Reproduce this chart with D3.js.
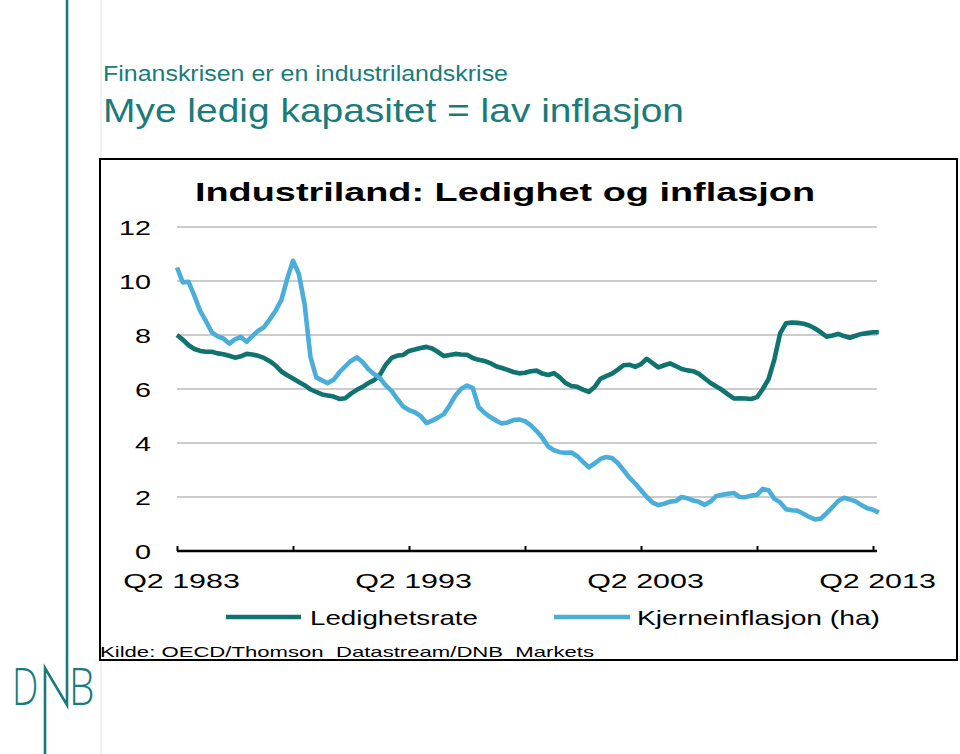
<!DOCTYPE html>
<html>
<head>
<meta charset="utf-8">
<script src="https://cdn.jsdelivr.net/npm/d3@7"></script>
<style>
  html, body { margin: 0; padding: 0; background: #ffffff; }
  svg { display: block; font-family: "Liberation Sans", Arial, sans-serif; }
</style>
</head>
<body>
<svg id="chart" width="960" height="754"></svg>
<script>
// ---------------- DATA ----------------
const startYear = 1983;
const startQuarter = 2;
// Ledighetsrate (%), quarterly from Q2 1983
const unemployment = [
  8.00, 7.83, 7.62, 7.48, 7.41, 7.38, 7.38, 7.32, 7.29, 7.23,
  7.16, 7.21, 7.30, 7.28, 7.23, 7.15, 7.03, 6.87, 6.65, 6.51,
  6.39, 6.26, 6.14, 5.99, 5.89, 5.80, 5.76, 5.72, 5.63, 5.66,
  5.83, 5.97, 6.08, 6.22, 6.33, 6.53, 6.90, 7.15, 7.24, 7.26,
  7.41, 7.46, 7.52, 7.56, 7.50, 7.37, 7.22, 7.26, 7.30, 7.28,
  7.27, 7.15, 7.08, 7.04, 6.96, 6.84, 6.78, 6.71, 6.63, 6.58,
  6.60, 6.66, 6.68, 6.57, 6.52, 6.59, 6.43, 6.22, 6.11, 6.08,
  5.98, 5.89, 6.07, 6.38, 6.48, 6.57, 6.72, 6.88, 6.90, 6.82,
  6.92, 7.12, 6.96, 6.80, 6.88, 6.95, 6.85, 6.74, 6.69, 6.66,
  6.56, 6.39, 6.22, 6.09, 5.96, 5.80, 5.65, 5.66, 5.65, 5.63,
  5.70, 6.00, 6.37, 7.10, 8.07, 8.43, 8.46, 8.45, 8.42, 8.35,
  8.24, 8.10, 7.94, 7.98, 8.04, 7.96, 7.90, 7.97, 8.04, 8.07,
  8.10, 8.10
];
// Kjerneinflasjon (%), quarterly from Q2 1983
const coreInflation = [
  10.50, 9.95, 9.97, 9.45, 8.89, 8.51, 8.10, 7.95, 7.87, 7.68,
  7.84, 7.93, 7.75, 7.96, 8.16, 8.29, 8.58, 8.90, 9.30, 10.08,
  10.75, 10.27, 9.14, 7.20, 6.43, 6.32, 6.22, 6.34, 6.62, 6.84,
  7.04, 7.17, 7.00, 6.73, 6.55, 6.40, 6.13, 5.93, 5.63, 5.35,
  5.22, 5.14, 5.00, 4.74, 4.83, 4.94, 5.07, 5.39, 5.76, 6.01,
  6.13, 6.03, 5.33, 5.12, 4.96, 4.83, 4.72, 4.76, 4.85, 4.87,
  4.81, 4.65, 4.44, 4.19, 3.87, 3.73, 3.66, 3.64, 3.65, 3.51,
  3.30, 3.10, 3.24, 3.41, 3.48, 3.44, 3.26, 2.99, 2.72, 2.50,
  2.25, 2.00, 1.79, 1.70, 1.75, 1.83, 1.85, 2.00, 1.95, 1.87,
  1.82, 1.71, 1.83, 2.04, 2.08, 2.12, 2.15, 2.00, 1.99, 2.05,
  2.08, 2.30, 2.25, 1.93, 1.80, 1.55, 1.51, 1.49, 1.38, 1.26,
  1.17, 1.20, 1.40, 1.62, 1.85, 1.97, 1.91, 1.84, 1.70, 1.58,
  1.53, 1.42
];
const quarters = unemployment.map((_, i) => {
  const q = (startQuarter - 1 + i);
  return "Q" + (q % 4 + 1) + " " + (startYear + Math.floor(q / 4));
});
const xTickIndex = [0, 20, 40, 60, 80, 100, 120];
const xTickLabels = ["Q2 1983", "", "Q2 1993", "", "Q2 2003", "", "Q2 2013"];
const yTicks = [0, 2, 4, 6, 8, 10, 12];
const seriesNames = ["Ledighetsrate", "Kjerneinflasjon (ha)"];

// ---------------- STYLE ----------------
const TEAL = "#117370";
const LIGHT = "#4aaed9";
const BRAND = "#1a7b7b";

const svg = d3.select("#chart");

// --- left sidebar & logo ---
svg.append("line").attr("x1", 101).attr("x2", 101).attr("y1", 0).attr("y2", 754)
  .attr("stroke", "#e2e2e2").attr("stroke-width", 1);
svg.append("path")
  .attr("d", "M67,0 L67,705 L45,668 L45,754")
  .attr("fill", "none").attr("stroke", BRAND).attr("stroke-width", 2.6)
  .attr("stroke-linejoin", "miter");
svg.append("text").text("D")
  .attr("transform", "translate(12,705) scale(0.72,1)")
  .attr("font-family", "'Open Sans', sans-serif").attr("font-weight", 300)
  .attr("font-size", 52).attr("fill", BRAND);
svg.append("text").text("B")
  .attr("transform", "translate(69,705) scale(0.78,1)")
  .attr("font-family", "'Open Sans', sans-serif").attr("font-weight", 300)
  .attr("font-size", 52).attr("fill", BRAND);

// --- slide titles ---
svg.append("text").text("Finanskrisen er en industrilandskrise")
  .attr("x", 103).attr("y", 81).attr("font-size", 22).attr("fill", BRAND)
  .attr("textLength", 405).attr("lengthAdjust", "spacingAndGlyphs");
svg.append("text").text("Mye ledig kapasitet = lav inflasjon")
  .attr("x", 103).attr("y", 122).attr("font-size", 33).attr("fill", BRAND)
  .attr("textLength", 581).attr("lengthAdjust", "spacingAndGlyphs");

// --- chart box ---
svg.append("rect").attr("x", 100).attr("y", 159).attr("width", 857).attr("height", 501)
  .attr("fill", "#fff").attr("stroke", "#000").attr("stroke-width", 2);

svg.append("text").text("Industriland: Ledighet og inflasjon")
  .attr("x", 195).attr("y", 201).attr("font-size", 26).attr("font-weight", "bold")
  .attr("textLength", 620).attr("lengthAdjust", "spacingAndGlyphs").attr("fill", "#000");

// --- scales ---
const x = d3.scaleLinear().domain([0, 120]).range([177, 873]);
const y = d3.scaleLinear().domain([0, 12]).range([551, 227]);

// gridlines
svg.append("g").selectAll("line").data(yTicks.filter(d => d > 0)).join("line")
  .attr("x1", 177).attr("x2", 877)
  .attr("y1", d => y(d)).attr("y2", d => y(d))
  .attr("stroke", "#cccccc").attr("stroke-width", 2);

// y labels
const yAxis = svg.append("g").attr("transform", "translate(177,0)")
  .call(d3.axisLeft(y).tickValues(yTicks).tickSize(0).tickPadding(26).tickFormat(d3.format("d")));
yAxis.select(".domain").remove();
yAxis.selectAll("text")
  .attr("font-family", "'Liberation Sans', Arial, sans-serif")
  .attr("font-size", 20).attr("fill", "#000")
  .attr("dy", null).attr("dominant-baseline", null)
  .each(function () {
    const t = d3.select(this);
    const xx = +t.attr("x");
    t.attr("x", null).attr("transform", `translate(${xx},7) scale(1.44,1)`);
  });

// x axis
const xAxis = svg.append("g").attr("transform", "translate(0,551)")
  .call(d3.axisBottom(x).tickValues(xTickIndex).tickSize(-5).tickPadding(0)
    .tickFormat((d, i) => xTickLabels[i]));
xAxis.select(".domain")
  .attr("d", `M177,0H877`).attr("stroke", "#000").attr("stroke-width", 2.4);
xAxis.selectAll(".tick line").attr("stroke", "#000").attr("stroke-width", 2);
xAxis.selectAll(".tick text")
  .attr("font-family", "'Liberation Sans', Arial, sans-serif")
  .attr("font-size", 21).attr("fill", "#000")
  .attr("y", null).attr("dy", null)
  .attr("transform", "translate(4,37) scale(1.45,1)");

// lines
const line = d3.line().x((d, i) => x(i)).y(d => y(d));
svg.append("path").datum(unemployment).attr("d", line)
  .attr("fill", "none").attr("stroke", TEAL).attr("stroke-width", 4.6)
  .attr("stroke-linejoin", "round");
svg.append("path").datum(coreInflation).attr("d", line)
  .attr("fill", "none").attr("stroke", LIGHT).attr("stroke-width", 4.6)
  .attr("stroke-linejoin", "round");

// legend
const legendItems = [
  { name: seriesNames[0], color: TEAL, x1: 226, x2: 301, tx: 310, tw: 168 },
  { name: seriesNames[1], color: LIGHT, x1: 554, x2: 630, tx: 637, tw: 243 }
];
const lg = svg.append("g");
legendItems.forEach(it => {
  lg.append("line").attr("x1", it.x1).attr("x2", it.x2).attr("y1", 617).attr("y2", 617)
    .attr("stroke", it.color).attr("stroke-width", 4.5);
  lg.append("text").text(it.name).attr("x", it.tx).attr("y", 625)
    .attr("font-size", 21).attr("fill", "#000")
    .attr("textLength", it.tw).attr("lengthAdjust", "spacingAndGlyphs");
});

// source
svg.append("text").text("Kilde: OECD/Thomson  Datastream/DNB  Markets")
  .attr("x", 100).attr("y", 657).attr("font-size", 15).attr("fill", "#000")
  .attr("xml:space", "preserve").style("white-space", "pre")
  .attr("textLength", 494).attr("lengthAdjust", "spacingAndGlyphs");
</script>
</body>
</html>
